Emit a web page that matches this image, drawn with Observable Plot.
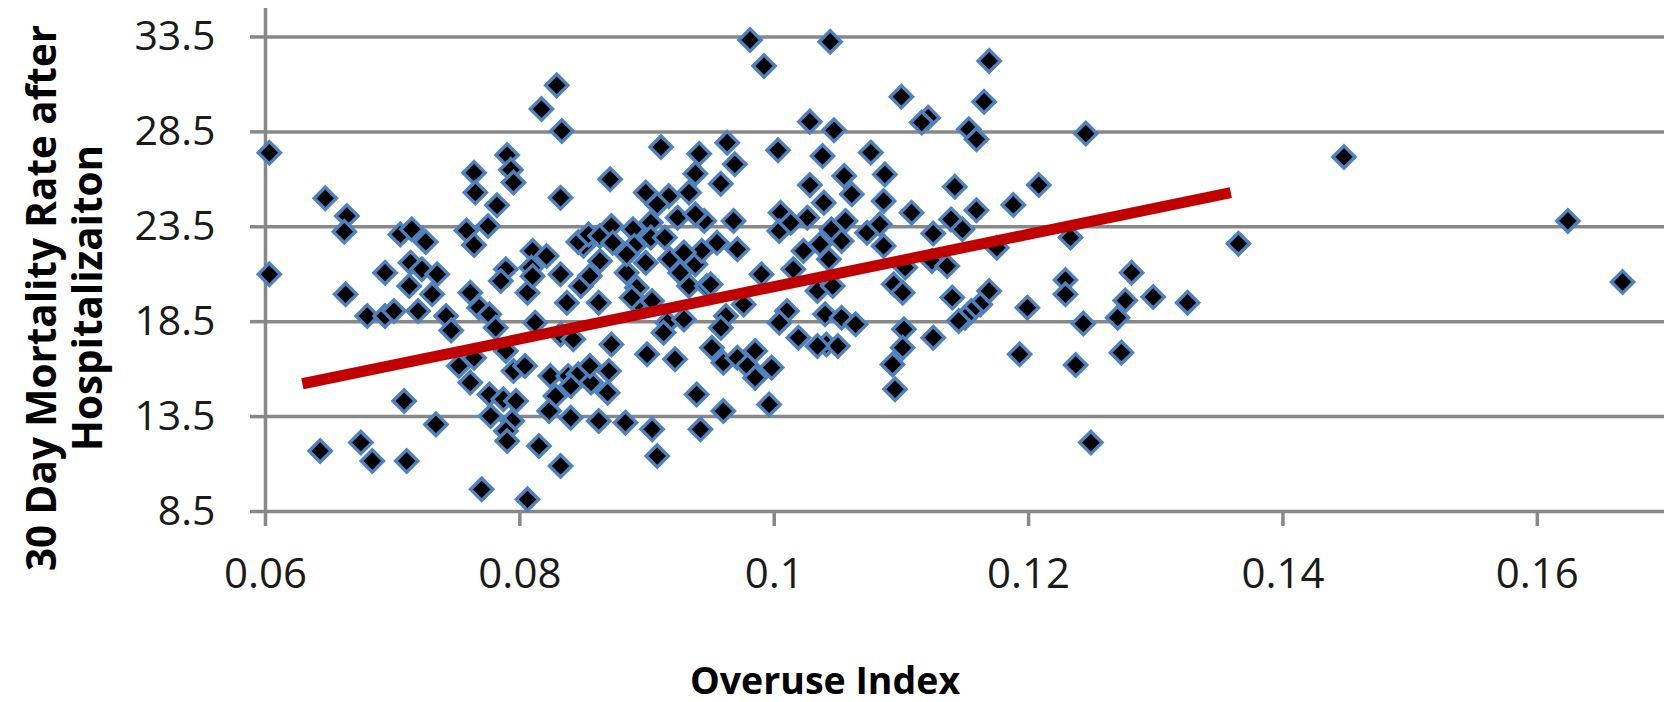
<!DOCTYPE html>
<html><head><meta charset="utf-8">
<script src="https://cdn.jsdelivr.net/npm/d3@7"></script>
<script src="https://cdn.jsdelivr.net/npm/@observablehq/plot@0.6"></script>
<style>html,body{margin:0;padding:0;background:#fff}svg{display:block}</style>
</head><body><div id="chart"></div>
<script>
const overuse = [
0.0603,0.0829,0.0817,0.0833,0.0647,0.0664,0.0662,0.0790,0.0793,0.0795,
0.0764,0.0765,0.0782,0.0832,0.0758,0.0775,0.0764,0.0706,0.0715,0.0726,
0.0603,0.0694,0.0714,0.0723,0.0735,0.0810,0.0821,0.0850,0.0846,0.0854,
0.0832,0.0789,0.0809,0.0713,0.0731,0.0663,0.0680,0.0694,0.0701,0.0720,
0.0742,0.0746,0.0761,0.0768,0.0776,0.0781,0.0785,0.0806,0.0810,0.0837,
0.0848,0.0812,0.0832,0.0842,0.0764,0.0752,0.0761,0.0789,0.0795,0.0804,
0.0824,0.0838,0.0846,0.0856,0.0862,0.0840,0.0828,0.0840,0.0823,0.0776,
0.0787,0.0797,0.0777,0.0794,0.0789,0.0790,0.0815,0.0832,0.0806,0.0770,
0.0709,0.0734,0.0643,0.0675,0.0684,0.0711,0.0981,0.0992,0.1044,0.1100,
0.1121,0.1116,0.1028,0.1047,0.0911,0.0871,0.0963,0.0941,0.0969,0.1003,
0.1038,0.1076,0.0938,0.0958,0.1028,0.1055,0.1087,0.0899,0.0917,0.0933,
0.0908,0.1061,0.1039,0.1086,0.1108,0.0924,0.0903,0.0945,0.0938,0.0968,
0.1005,0.1004,0.1026,0.1045,0.1056,0.1073,0.1083,0.1086,0.1036,0.1023,
0.1053,0.1043,0.0863,0.0872,0.0889,0.0890,0.0903,0.0914,0.0918,0.0899,
0.0863,0.0884,0.0938,0.0943,0.0955,0.0971,0.0990,0.1015,0.0862,0.0893,
0.0904,0.0916,0.0913,0.0929,0.0933,0.0947,0.0962,0.0958,0.0976,0.1010,
0.1004,0.1034,0.1046,0.1040,0.1053,0.1064,0.1094,0.1101,0.1102,0.1101,
0.1093,0.1095,0.1019,0.1041,0.1050,0.1034,0.0872,0.0900,0.0922,0.0870,
0.0869,0.0951,0.0960,0.0971,0.0979,0.0985,0.0985,0.0998,0.0939,0.0960,
0.0996,0.0883,0.0904,0.0908,0.0942,0.1169,0.1165,0.1153,0.1159,0.1245,
0.1142,0.1208,0.1188,0.1139,0.1159,0.1148,0.1125,0.1175,0.1233,0.1124,
0.1136,0.1365,0.1281,0.1229,0.1103,0.1140,0.1169,0.1162,0.1155,0.1150,
0.1145,0.1125,0.1199,0.1193,0.1229,0.1243,0.1237,0.1249,0.1270,0.1273,
0.1276,0.1298,0.1325,0.1448,0.1624,0.1667,0.0873,0.0926,0.0950,0.0855,
0.0892,0.0888,0.0855,0.1013,0.0884,0.0929
];
const mortality = [
27.40,30.95,29.70,28.55,25.00,24.07,23.24,27.28,26.50,25.83,
26.35,25.30,24.63,25.03,23.30,23.54,22.54,23.10,23.37,22.70,
21.00,21.08,21.61,21.26,21.00,22.23,21.96,22.50,22.70,23.10,
21.00,21.26,21.35,20.38,19.94,19.94,18.80,18.80,19.06,19.06,
18.80,18.04,20.03,19.24,18.89,18.18,20.64,20.03,20.90,19.50,
20.38,18.45,17.83,17.57,16.60,16.17,15.29,16.96,15.90,16.17,
15.64,15.64,15.73,15.30,13.27,15.11,14.58,13.44,13.79,14.67,
14.41,14.32,13.53,13.27,12.74,12.21,11.95,10.90,9.14,9.67,
14.32,13.09,11.69,12.13,11.16,11.16,33.34,31.97,33.25,30.35,
29.25,28.99,29.04,28.58,27.70,26.00,27.93,27.35,26.79,27.53,
27.23,27.41,26.30,25.77,25.70,26.18,26.26,25.30,25.12,25.30,
24.68,25.21,24.77,24.86,24.24,23.98,23.72,23.81,24.16,23.81,
24.24,23.28,23.98,23.37,23.81,23.19,23.63,22.49,22.58,22.23,
22.75,21.79,23.02,23.54,23.37,22.49,22.93,22.93,21.79,21.61,
21.70,21.08,21.52,22.23,22.66,22.31,21.00,21.26,19.50,19.50,
19.59,18.45,17.92,18.62,20.38,20.38,18.80,18.18,19.41,19.06,
18.45,20.12,20.38,18.89,18.71,18.36,20.47,20.03,18.10,17.13,
16.25,14.94,17.66,17.30,17.22,17.22,17.30,16.78,16.52,15.90,
14.76,17.13,16.34,16.60,16.17,16.96,15.55,16.08,14.67,13.79,
14.14,13.18,12.83,11.42,12.83,32.24,30.09,28.64,28.11,28.41,
25.61,25.70,24.65,23.89,24.37,23.37,23.14,22.40,22.93,21.70,
21.43,22.61,21.08,20.70,21.35,19.77,20.12,19.41,19.06,18.71,
18.54,17.66,19.24,16.78,19.94,18.40,16.22,12.13,18.71,16.87,
19.62,19.80,19.50,27.18,23.81,20.59,22.66,21.08,20.47,20.91,
20.29,19.77,16.17,23.71,22.05,22.14
];
const trendX = [0.0629, 0.1359];
const trendY = [15.23, 25.30];
const xTicks = [0.06, 0.08, 0.1, 0.12, 0.14, 0.16];
const xTickLabels = ["0.06", "0.08", "0.1", "0.12", "0.14", "0.16"];
const yTicks = [8.5, 13.5, 18.5, 23.5, 28.5, 33.5];
const yTickLabels = ["8.5", "13.5", "18.5", "23.5", "28.5", "33.5"];
const xTitle = "Overuse Index";
const yTitleLines = ["30 Day Mortality Rate after", "Hospitalizaiton"];

const points = overuse.map((x, i) => ({x, y: mortality[i]}));
const trend = trendX.map((x, i) => ({x, y: trendY[i]}));
const grid = "#888888";

const chart = Plot.plot({
  width: 1671, height: 702,
  marginLeft: 265, marginRight: 7, marginTop: 8, marginBottom: 191,
  x: {domain: [0.06, 0.17]},
  y: {domain: [8.5, 35]},
  style: {fontFamily: "'Open Sans', sans-serif", fontSize: "42px", background: "#fff", color: "#1a1a1a", overflow: "visible"},
  marks: [
    Plot.ruleY(yTicks, {stroke: grid, strokeWidth: 3.5}),
    Plot.ruleX([0.06], {stroke: grid, strokeWidth: 3.5}),
    Plot.axisY({ticks: yTicks, tickSize: 15, tickPadding: 35, tickFormat: d => yTickLabels[yTicks.indexOf(d)], stroke: grid, strokeWidth: 3.5, fill: "#1a1a1a", fontSize: 41, label: null}),
    Plot.axisX({ticks: xTicks, tickSize: 15, tickPadding: 32, tickFormat: d => xTickLabels[xTicks.indexOf(d)], stroke: grid, strokeWidth: 3.5, fill: "#1a1a1a", fontSize: 42, label: null}),
    Plot.dot(points, {x: "x", y: "y", symbol: "diamond2", r: 10, fill: "#000", stroke: "#4f81bd", strokeWidth: 3.4}),
    Plot.line(trend, {x: "x", y: "y", stroke: "#c00000", strokeWidth: 11, strokeLinecap: "butt"}),
    Plot.text([xTitle], {frameAnchor: "bottom", dx: -140, dy: 170, textAnchor: "middle", lineAnchor: "middle", fontSize: 37.5, fontWeight: "bold", fill: "#000"}),
    Plot.text([yTitleLines.join("\n")], {frameAnchor: "left", rotate: -90, dx: -201, dy: 38, textAnchor: "middle", lineAnchor: "middle", lineHeight: 1.12, fontSize: 40.4, fontWeight: "bold", fill: "#000"})
  ]
});
document.getElementById("chart").appendChild(chart);
</script>
</body></html>
